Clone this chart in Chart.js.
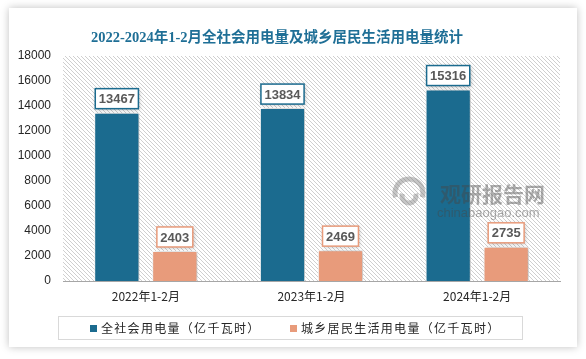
<!DOCTYPE html>
<html><head><meta charset="utf-8">
<script src="https://cdn.jsdelivr.net/npm/chart.js@4.4.1/dist/chart.umd.min.js"></script>
<style>
html,body{margin:0;padding:0;background:#fff;width:586px;height:359px;overflow:hidden;}
#card{position:absolute;left:9px;top:8px;width:568px;height:339px;background:#fff;box-shadow:0 0 8px rgba(0,0,0,0.25);}
#c{position:absolute;left:0;top:0;}
#title{position:absolute;left:-16px;top:19px;width:568px;text-align:center;font:bold 14.5px "Liberation Serif","Noto Sans CJK SC",serif;color:#1f6f96;line-height:20px;white-space:nowrap;}
#legend{position:absolute;left:49px;top:308px;width:465px;height:24px;box-sizing:border-box;border:1px solid #d9d9d9;font:12px "Noto Sans CJK SC",sans-serif;color:#262626;letter-spacing:1.3px;}
.sq{position:absolute;top:8px;width:7px;height:7px;}
.lt{position:absolute;top:0;line-height:22px;white-space:nowrap;}
#wm1{position:absolute;left:431px;top:173px;font:bold 21px "Noto Sans CJK SC",sans-serif;color:rgba(70,70,70,0.45);line-height:24px;white-space:nowrap;pointer-events:none;}
#wm2{position:absolute;left:428px;top:198px;font:13px "Liberation Sans",sans-serif;color:rgba(70,70,70,0.45);line-height:14px;white-space:nowrap;pointer-events:none;}
</style></head>
<body>
<div id="card">
<canvas id="c" width="568" height="339"></canvas>
<div id="title"></div>
<div id="legend">
  <div class="sq" style="left:31px;background:#1b6b8f"></div><div class="lt" id="l1" style="left:42px"></div>
  <div class="sq" style="left:231px;background:#e89b7b"></div><div class="lt" id="l2" style="left:242px"></div>
</div>
<div id="wm1">观研报告网</div>
<div id="wm2">chinabaogao.com</div>
</div>
<script>
const titleText = '2022-2024年1-2月全社会用电量及城乡居民生活用电量统计';
const categories = ['2022年1-2月', '2023年1-2月', '2024年1-2月'];
const seriesNames = ['全社会用电量（亿千瓦时）', '城乡居民生活用电量（亿千瓦时）'];
const totalUse = [13467, 13834, 15316];
const residentUse = [2403, 2469, 2735];
const colors = ['#1b6b8f', '#e89b7b'];

document.getElementById('title').textContent = titleText;
document.getElementById('l1').textContent = seriesNames[0];
document.getElementById('l2').textContent = seriesNames[1];

function hatch(){
  const p = document.createElement('canvas'); p.width = 4; p.height = 4;
  const g = p.getContext('2d');
  g.fillStyle = '#ffffff'; g.fillRect(0,0,4,4);
  g.strokeStyle = '#cfcfcf'; g.lineWidth = 1;
  g.beginPath(); g.moveTo(-1,-1); g.lineTo(5,5); g.moveTo(-1,3); g.lineTo(1,5); g.moveTo(3,-1); g.lineTo(5,1); g.stroke();
  return p;
}
const bgPlugin = {
  id:'bg',
  beforeDraw(chart){
    const {ctx, chartArea:a} = chart;
    ctx.save();
    ctx.fillStyle = ctx.createPattern(hatch(), 'repeat');
    ctx.fillRect(a.left, a.top, a.right-a.left, a.bottom-a.top);
    ctx.restore();
  },
  beforeDatasetsDraw(chart){
    const ctx = chart.ctx; ctx.save();
    ctx.shadowColor = 'rgba(0,0,0,0.3)'; ctx.shadowBlur = 5; ctx.shadowOffsetX = 2; ctx.shadowOffsetY = 0;
  },
  afterDatasetsDraw(chart){
    const ctx = chart.ctx; ctx.restore();
    ctx.save();
    ctx.font = 'bold 13px "Liberation Sans", sans-serif';
    chart.data.datasets.forEach((ds, di) => {
      chart.getDatasetMeta(di).data.forEach((bar, i) => {
        const t = String(ds.data[i]);
        const w = ctx.measureText(t).width + 7, h = 20;
        const x = bar.x - w/2, y = bar.y - 4 - h;
        ctx.save();
        ctx.shadowColor = 'rgba(0,0,0,0.25)'; ctx.shadowBlur = 4; ctx.shadowOffsetX = 1; ctx.shadowOffsetY = 1;
        ctx.fillStyle = '#fff'; ctx.fillRect(x, y, w, h);
        ctx.restore();
        ctx.strokeStyle = colors[di]; ctx.lineWidth = 1.5; ctx.strokeRect(x, y, w, h);
        ctx.fillStyle = '#595959'; ctx.textAlign = 'center'; ctx.textBaseline = 'middle';
        ctx.fillText(t, bar.x, y + h/2 + 1);
      });
    });
    ctx.restore();
  },
  afterDraw(chart){
    const ctx = chart.ctx; ctx.save();
    ctx.strokeStyle = 'rgba(110,110,110,0.4)'; ctx.lineWidth = 5;
    ctx.beginPath(); ctx.arc(400, 185, 14, Math.PI*0.9, Math.PI*2.1); ctx.stroke();
    ctx.beginPath(); ctx.arc(400, 188, 7, Math.PI*1.1, Math.PI*1.9, true); ctx.stroke();
    ctx.restore();
  }
};

new Chart(document.getElementById('c'), {
  type:'bar',
  data:{
    labels: categories,
    datasets:[
      {label: seriesNames[0], data: totalUse, backgroundColor: colors[0], borderColor:'#fff', borderWidth:1},
      {label: seriesNames[1], data: residentUse, backgroundColor: colors[1], borderColor:'#fff', borderWidth:1}
    ]
  },
  options:{
    responsive:false, animation:false,
    layout:{padding:{left:0, right:17, top:48, bottom:40}},
    datasets:{bar:{categoryPercentage:0.70, barPercentage:0.78}},
    plugins:{legend:{display:false}, title:{display:false}, tooltip:{enabled:false}},
    scales:{
      x:{
        grid:{display:false, drawTicks:false},
        border:{display:true, color:'#a6a6a6', width:1},
        ticks:{color:'#262626', font:{size:12, family:'"Noto Sans CJK SC", sans-serif'}, padding:8},
        afterFit(s){ s.height = 26; }
      },
      y:{
        min:0, max:18000,
        grid:{display:false, drawTicks:false},
        border:{display:false},
        ticks:{stepSize:2000, color:'#262626', font:{size:12, family:'"Liberation Sans", sans-serif'}, padding:12, callback:(v)=>String(v)},
        afterFit(s){ s.width = 54; }
      }
    }
  },
  plugins:[bgPlugin]
});
</script>
</body></html>
